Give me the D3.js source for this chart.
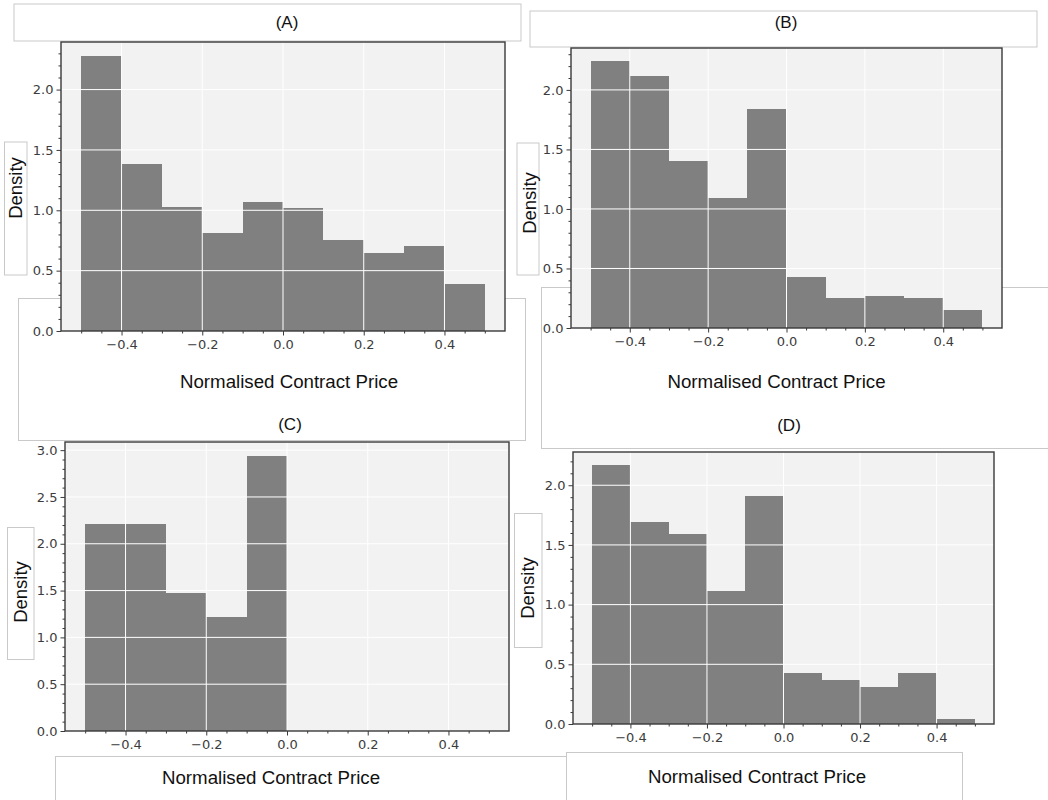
<!DOCTYPE html>
<html>
<head>
<meta charset="utf-8">
<script src="https://cdn.jsdelivr.net/npm/d3@7"></script>
<style>
  html, body { margin: 0; padding: 0; background: #ffffff; }
  svg { display: block; }
</style>
</head>
<body>
<script>
// Histogram bin edges (normalised contract price) and densities per panel
const binEdges = [-0.5, -0.4, -0.3, -0.2, -0.1, 0.0, 0.1, 0.2, 0.3, 0.4, 0.5];
const densityA = [2.28, 1.38, 1.03, 0.81, 1.07, 1.02, 0.75, 0.65, 0.70, 0.39];
const densityB = [2.24, 2.12, 1.40, 1.09, 1.84, 0.43, 0.25, 0.27, 0.25, 0.15];
const densityC = [2.21, 2.21, 1.47, 1.22, 2.94, 0, 0, 0, 0, 0];
const densityD = [2.17, 1.69, 1.59, 1.11, 1.91, 0.43, 0.37, 0.31, 0.43, 0.04];

const panelTitles = ["(A)", "(B)", "(C)", "(D)"];
const xLabel = "Normalised Contract Price";
const yLabel = "Density";
const xMajorTicks = [-0.4, -0.2, 0.0, 0.2, 0.4];
const xMinorTicks = [-0.5, -0.45, -0.35, -0.3, -0.25, -0.15, -0.1, -0.05, 0.05, 0.1, 0.15, 0.25, 0.3, 0.35, 0.45, 0.5];
const yMajorTicksLow = [0.0, 0.5, 1.0, 1.5, 2.0];
const yMajorTicksHigh = [0.0, 0.5, 1.0, 1.5, 2.0, 2.5, 3.0];

const W = 1048, H = 800;
const svg = d3.select("body").append("svg").attr("width", W).attr("height", H);

const LABEL_FONT = "'Liberation Sans', Arial, Helvetica, sans-serif";
const TICK_FONT = "'DejaVu Sans', sans-serif";

// Framed text boxes placed around the panels
const boxes = [
  { x: 14, y: 4, w: 507, h: 37 },      // title A
  { x: 530, y: 11, w: 507, h: 36 },    // title B
  { x: 4.5, y: 142, w: 22.5, h: 133 }, // y label A
  { x: 517, y: 143, w: 22, h: 132 },   // y label B
  { x: 18.5, y: 298.5, w: 507, h: 142 }, // x label A / title C
  { x: 541.5, y: 287.5, w: 520, h: 161 },// x label B / title D
  { x: 7.5, y: 527.5, w: 26.5, h: 132 }, // y label C
  { x: 514.5, y: 513.5, w: 27.5, h: 134 },// y label D
  { x: 55.5, y: 756.5, w: 560, h: 60 },  // x label C
  { x: 566.5, y: 752.5, w: 396, h: 60 }  // x label D
];
svg.append("g").selectAll("rect").data(boxes).join("rect")
  .attr("x", d => d.x).attr("y", d => d.y)
  .attr("width", d => d.w).attr("height", d => d.h)
  .attr("fill", "#ffffff").attr("stroke", "#c9c9c9").attr("stroke-width", 1);

// Axes rectangles for each histogram
const panels = [
  { values: densityA, left: 61, top: 42, right: 505, bottom: 331, yTicks: yMajorTicksLow },
  { values: densityB, left: 571, top: 48, right: 1002, bottom: 328, yTicks: yMajorTicksLow },
  { values: densityC, left: 65, top: 442, right: 509, bottom: 731, yTicks: yMajorTicksHigh },
  { values: densityD, left: 573, top: 452, right: 994, bottom: 724, yTicks: yMajorTicksLow }
];

const bins = binEdges.slice(0, -1).map((x0, i) => ({ x0, x1: binEdges[i + 1] }));

panels.forEach(p => {
  const w = p.right - p.left, h = p.bottom - p.top;
  const ymax = d3.max(p.values) * 1.05;
  const x = d3.scaleLinear().domain([-0.55, 0.55]).range([0, w]);
  const y = d3.scaleLinear().domain([0, ymax]).range([h, 0]);
  const yMinor = d3.range(0, Math.floor(ymax * 10) + 1).map(k => k / 10)
    .filter(v => !p.yTicks.some(t => Math.abs(t - v) < 1e-9));

  const g = svg.append("g").attr("transform", `translate(${p.left},${p.top})`);
  g.append("rect").attr("width", w).attr("height", h).attr("fill", "#f2f2f2");

  g.append("g").attr("shape-rendering", "crispEdges")
    .selectAll("rect").data(bins.map((b, i) => ({ ...b, v: p.values[i] })))
    .join("rect")
    .attr("x", d => x(d.x0)).attr("width", d => x(d.x1) - x(d.x0))
    .attr("y", d => y(d.v)).attr("height", d => y(0) - y(d.v))
    .attr("fill", "#808080");

  // white grid over the bars
  const grid = g.append("g").attr("stroke", "#ffffff").attr("stroke-width", 1);
  grid.selectAll(".gx").data(xMajorTicks).join("line")
    .attr("x1", d => x(d)).attr("x2", d => x(d)).attr("y1", 0).attr("y2", h);
  grid.selectAll(".gy").data(p.yTicks.filter(t => t <= ymax && t > 0)).join("line")
    .attr("x1", 0).attr("x2", w).attr("y1", d => y(d)).attr("y2", d => y(d));

  // minor ticks
  const xMinorAxis = d3.axisBottom(x).tickValues(xMinorTicks).tickSize(2.5).tickFormat("");
  const yMinorAxis = d3.axisLeft(y).tickValues(yMinor).tickSize(2.5).tickFormat("");
  g.append("g").attr("transform", `translate(0,${h})`).call(xMinorAxis).call(s => s.select(".domain").remove());
  g.append("g").call(yMinorAxis).call(s => s.select(".domain").remove());

  // major ticks + labels
  const xAxis = d3.axisBottom(x).tickValues(xMajorTicks).tickSize(4.5).tickPadding(4)
    .tickFormat(d3.format(".1f"));
  const yAxis = d3.axisLeft(y).tickValues(p.yTicks.filter(t => t <= ymax)).tickSize(4.5).tickPadding(3)
    .tickFormat(d3.format(".1f"));
  g.append("g").attr("transform", `translate(0,${h})`).call(xAxis).call(s => s.select(".domain").remove());
  g.append("g").call(yAxis).call(s => s.select(".domain").remove());

  g.selectAll(".tick line").attr("stroke", "#3a3a3a").attr("stroke-width", 1);
  g.selectAll(".tick text").attr("fill", "#3c3c3c").style("font-family", TICK_FONT).style("font-size", "13px");

  g.append("rect").attr("width", w).attr("height", h)
    .attr("fill", "none").attr("stroke", "#3a3a3a").attr("stroke-width", 1.4);
});

// Titles and axis labels
const titlePos = [[287, 22], [786, 22], [290, 424], [789, 425]];
svg.append("g").selectAll("text").data(panelTitles).join("text")
  .attr("x", (d, i) => titlePos[i][0]).attr("y", (d, i) => titlePos[i][1])
  .attr("text-anchor", "middle").attr("dominant-baseline", "central")
  .style("font-family", LABEL_FONT).style("font-size", "17px").attr("fill", "#111")
  .text(d => d);

const xLabelPos = [[289, 381], [776.5, 381], [271, 777], [757, 776]];
svg.append("g").selectAll("text").data(xLabelPos).join("text")
  .attr("x", d => d[0]).attr("y", d => d[1])
  .attr("text-anchor", "middle").attr("dominant-baseline", "central")
  .style("font-family", LABEL_FONT).style("font-size", "18.7px").attr("fill", "#111")
  .text(xLabel);

const yLabelPos = [[15, 188], [529.5, 203], [20, 592], [527.5, 588]];
svg.append("g").selectAll("text").data(yLabelPos).join("text")
  .attr("transform", d => `translate(${d[0]},${d[1]}) rotate(-90)`)
  .attr("text-anchor", "middle").attr("dominant-baseline", "central")
  .style("font-family", LABEL_FONT).style("font-size", "18.5px").attr("fill", "#111")
  .text(yLabel);
</script>
</body>
</html>
